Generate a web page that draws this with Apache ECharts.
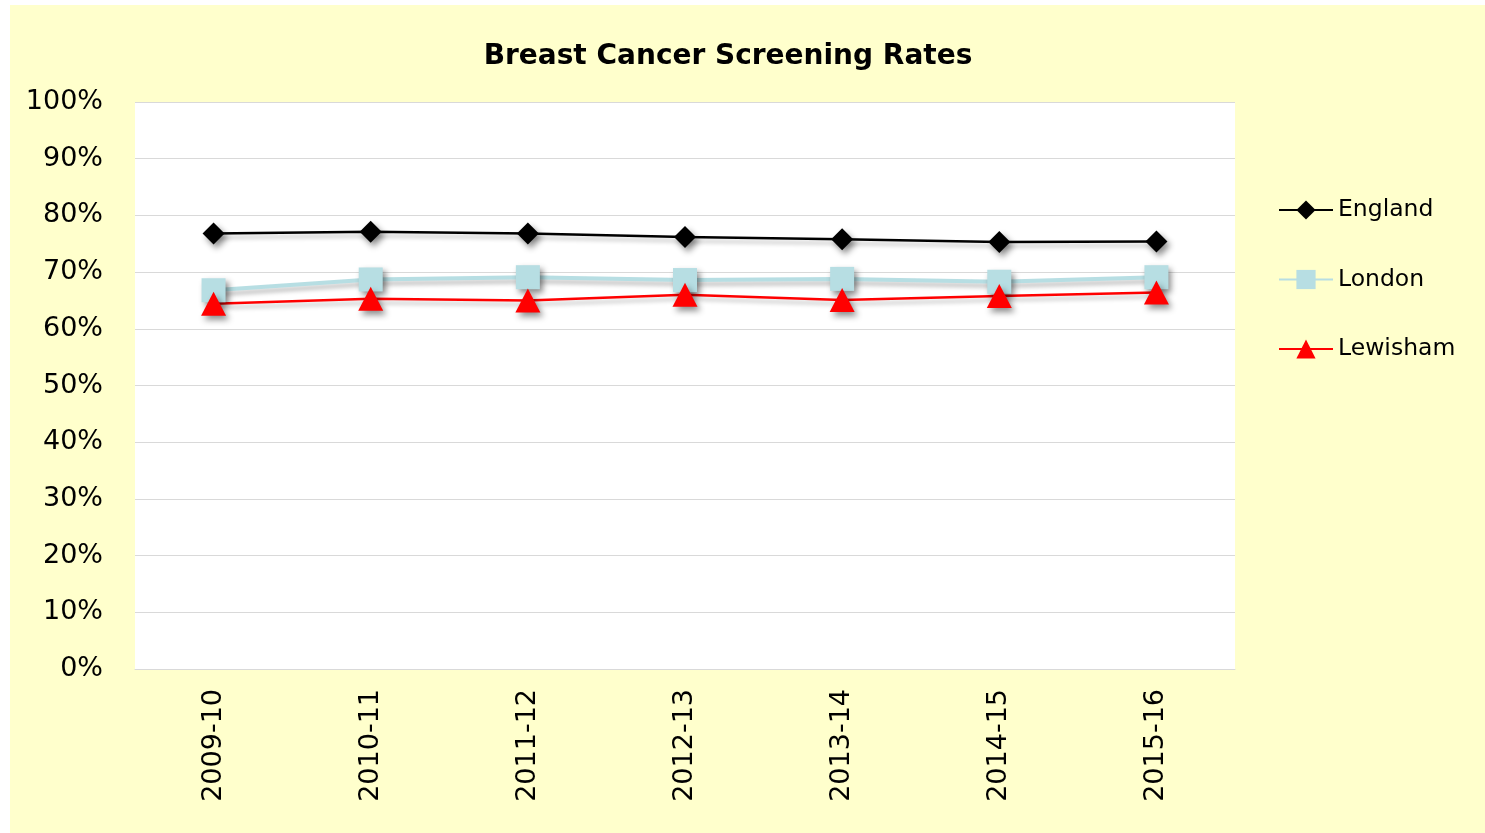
<!DOCTYPE html>
<html>
<head>
<meta charset="utf-8">
<title>Breast Cancer Screening Rates</title>
<script src="https://cdn.jsdelivr.net/npm/echarts@6/dist/echarts.min.js"></script>
<style>
  html, body { margin: 0; padding: 0; background: #fff; }
  #chart { position: absolute; left: 10px; top: 5px; width: 1475px; height: 828px; }
</style>
</head>
<body>
<div id="chart"></div>
<script>
// data (percent)
var years = ['2009-10', '2010-11', '2011-12', '2012-13', '2013-14', '2014-15', '2015-16'];
var england = [76.8, 77.1, 76.8, 76.2, 75.8, 75.3, 75.4];
var london = [66.8, 68.7, 69.1, 68.6, 68.8, 68.3, 69.1];
var lewisham = [64.4, 65.3, 65.0, 66.0, 65.1, 65.8, 66.4];

var font = 'DejaVu Sans';
var shadow = {
    shadowColor: 'rgba(0,0,0,0.45)',
    shadowBlur: 6,
    shadowOffsetX: 3,
    shadowOffsetY: 4
};

function makeSeries(name, data, color, symbol, size, width) {
    return {
        name: name,
        type: 'line',
        data: data,
        symbol: symbol,
        symbolSize: size,
        showAllSymbol: true,
        lineStyle: Object.assign({ color: color, width: width }, shadow, { shadowBlur: 4, shadowColor: 'rgba(0,0,0,0.25)' }),
        itemStyle: Object.assign({ color: color }, shadow),
        emphasis: { disabled: true }
    };
}

var chart = echarts.init(document.getElementById('chart'));
chart.setOption({
    backgroundColor: '#FFFFCC',
    animation: false,
    title: {
        text: 'Breast Cancer Screening Rates',
        left: 713,
        top: 33,
        textAlign: 'center',
        textStyle: { fontFamily: font, fontWeight: 'bold', fontSize: 28, color: '#000' }
    },
    legend: {
        orient: 'vertical',
        left: 1263,
        top: 188,
        itemGap: 45.5,
        itemWidth: 54,
        itemHeight: 24,
        textStyle: { fontFamily: font, fontSize: 23.5, color: '#000' },
        data: ['England', 'London', 'Lewisham']
    },
    grid: {
        left: 125,
        top: 97,
        width: 1100,
        height: 567,
        show: true,
        backgroundColor: '#fff',
        borderWidth: 0
    },
    xAxis: {
        type: 'category',
        data: years,
        boundaryGap: true,
        axisLine: { show: true, lineStyle: { color: '#d9d9d9', width: 1 } },
        axisTick: { show: false },
        axisLabel: {
            rotate: 90,
            margin: 20,
            fontFamily: font,
            fontSize: 27,
            color: '#000'
        }
    },
    yAxis: {
        type: 'value',
        min: 0,
        max: 100,
        interval: 10,
        axisLine: { show: false },
        axisTick: { show: false },
        splitLine: { lineStyle: { color: '#d9d9d9', width: 1 } },
        axisLabel: {
            formatter: '{value}%',
            margin: 32,
            fontFamily: font,
            fontSize: 27,
            color: '#000'
        }
    },
    series: [
        makeSeries('England', england, '#000000', 'diamond', [22, 22], 2.5),
        makeSeries('London', london, '#B7DEE3', 'rect', 24, 4),
        makeSeries('Lewisham', lewisham, '#FF0000', 'triangle', [25, 24], 2.5)
    ]
});
</script>
</body>
</html>
